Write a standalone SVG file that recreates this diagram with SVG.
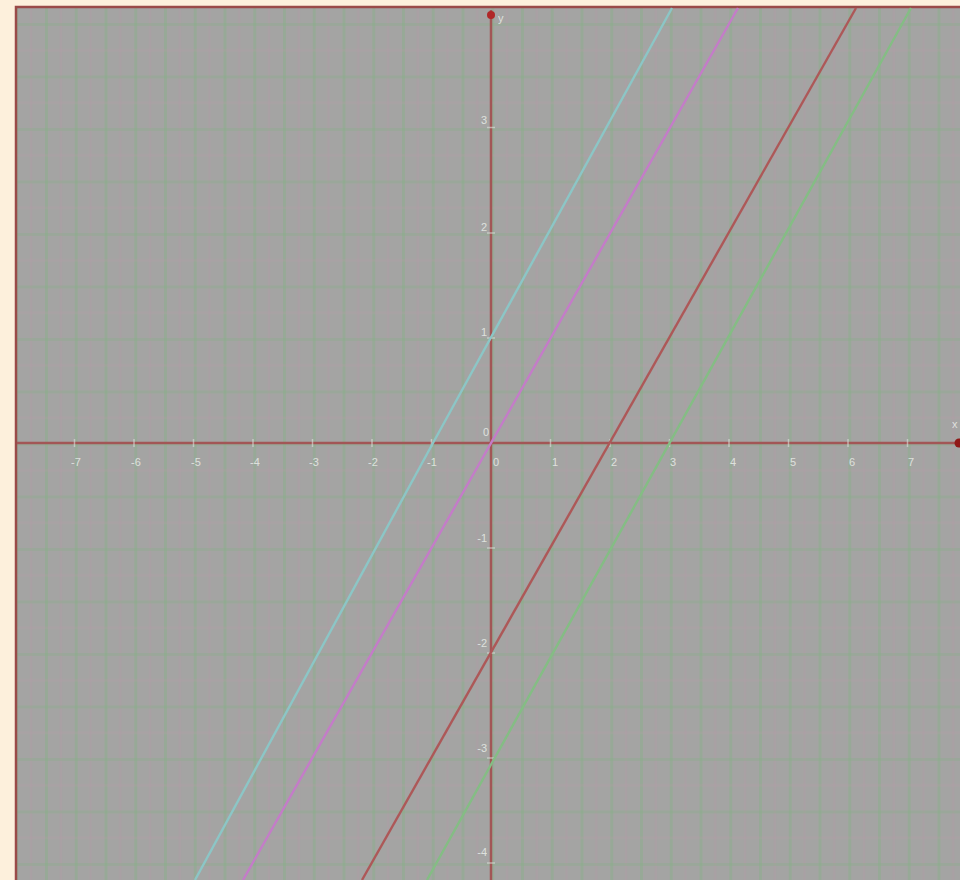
<svg xmlns="http://www.w3.org/2000/svg" width="960" height="880" viewBox="0 0 960 880">
<defs>
<pattern id="gridv" x="15.25" y="0" width="29.75" height="880" patternUnits="userSpaceOnUse">
<rect x="0" y="0" width="3" height="880" fill="#84b284" opacity="0.4"/>
<rect x="14.5" y="0" width="2.5" height="880" fill="#b89aa8" opacity="0.3"/>
</pattern>
<pattern id="gridh" x="0" y="23" width="960" height="52.5" patternUnits="userSpaceOnUse">
<rect x="0" y="0" width="960" height="3" fill="#84b284" opacity="0.3"/>
<rect x="0" y="26" width="960" height="2.5" fill="#b89aa8" opacity="0.25"/>
</pattern>
<style>
.lbl{font-family:"Liberation Sans",Arial,sans-serif;font-size:11px;fill:#e4e8e4;opacity:0.9;}
.cx{text-anchor:middle;}
.cy{text-anchor:end;}
.tick{stroke:#dde2dd;stroke-width:1.5;opacity:0.6;}
.fn{fill:none;stroke-width:2.4;}
</style>
</defs>
<rect x="0" y="0" width="960" height="880" fill="#fdf0dc"/>
<g id="plot">
<rect x="17" y="8" width="943" height="872" fill="#a4a4a3"/>
<rect x="17" y="8" width="943" height="872" fill="url(#gridv)"/>
<rect x="17" y="8" width="943" height="872" fill="url(#gridh)"/>
<path d="M16,880 V7 H960" fill="none" stroke="#9a4a48" stroke-width="2.5"/>
</g>
<g id="axes">
<line x1="17" y1="443" x2="958" y2="443" stroke="#a25656" stroke-width="2.5"/>
<line x1="491" y1="10" x2="491" y2="880" stroke="#a25656" stroke-width="2.5"/>
<circle cx="491" cy="15" r="4" fill="#b02828"/>
<circle cx="959" cy="443" r="4.5" fill="#901818"/>
<text class="lbl" x="498" y="22">y</text>
<text class="lbl" x="952" y="428">x</text>
<g id="xticks">
<line class="tick" x1="74.5" y1="439" x2="74.5" y2="447"/>
<line class="tick" x1="134" y1="439" x2="134" y2="447"/>
<line class="tick" x1="193.5" y1="439" x2="193.5" y2="447"/>
<line class="tick" x1="253" y1="439" x2="253" y2="447"/>
<line class="tick" x1="312.5" y1="439" x2="312.5" y2="447"/>
<line class="tick" x1="372" y1="439" x2="372" y2="447"/>
<line class="tick" x1="431.5" y1="439" x2="431.5" y2="447"/>
<line class="tick" x1="550.5" y1="439" x2="550.5" y2="447"/>
<line class="tick" x1="610" y1="439" x2="610" y2="447"/>
<line class="tick" x1="669.5" y1="439" x2="669.5" y2="447"/>
<line class="tick" x1="729" y1="439" x2="729" y2="447"/>
<line class="tick" x1="788.5" y1="439" x2="788.5" y2="447"/>
<line class="tick" x1="848" y1="439" x2="848" y2="447"/>
<line class="tick" x1="907.5" y1="439" x2="907.5" y2="447"/>
</g>
<g id="yticks">
<line class="tick" x1="487" y1="127.5" x2="495" y2="127.5"/>
<line class="tick" x1="487" y1="233" x2="495" y2="233"/>
<line class="tick" x1="487" y1="338" x2="495" y2="338"/>
<line class="tick" x1="487" y1="548" x2="495" y2="548"/>
<line class="tick" x1="487" y1="653" x2="495" y2="653"/>
<line class="tick" x1="487" y1="758" x2="495" y2="758"/>
<line class="tick" x1="487" y1="863" x2="495" y2="863"/>
</g>
<g id="xlabels">
<text class="lbl cx" x="76" y="466">-7</text>
<text class="lbl cx" x="136" y="466">-6</text>
<text class="lbl cx" x="196" y="466">-5</text>
<text class="lbl cx" x="255" y="466">-4</text>
<text class="lbl cx" x="314" y="466">-3</text>
<text class="lbl cx" x="373" y="466">-2</text>
<text class="lbl cx" x="432" y="466">-1</text>
<text class="lbl cx" x="496" y="466">0</text>
<text class="lbl cx" x="555" y="466">1</text>
<text class="lbl cx" x="614" y="466">2</text>
<text class="lbl cx" x="673" y="466">3</text>
<text class="lbl cx" x="733" y="466">4</text>
<text class="lbl cx" x="793" y="466">5</text>
<text class="lbl cx" x="852" y="466">6</text>
<text class="lbl cx" x="911" y="466">7</text>
</g>
<g id="ylabels">
<text class="lbl cy" x="487" y="124">3</text>
<text class="lbl cy" x="487" y="231">2</text>
<text class="lbl cy" x="487" y="336">1</text>
<text class="lbl cy" x="489" y="436">0</text>
<text class="lbl cy" x="487" y="542">-1</text>
<text class="lbl cy" x="487" y="647">-2</text>
<text class="lbl cy" x="487" y="752">-3</text>
<text class="lbl cy" x="487" y="856">-4</text>
</g>
</g>
<g id="connectors">
<polyline class="fn" points="672,8 433,443 195,880" stroke="#8cc6c6"/>
<line class="fn" x1="738" y1="8" x2="243" y2="880" stroke="#c47cc8"/>
<line class="fn" x1="856" y1="8" x2="362" y2="880" stroke="#ad5858"/>
<line class="fn" x1="911" y1="8" x2="427" y2="880" stroke="#84bd84"/>
</g>
</svg>
